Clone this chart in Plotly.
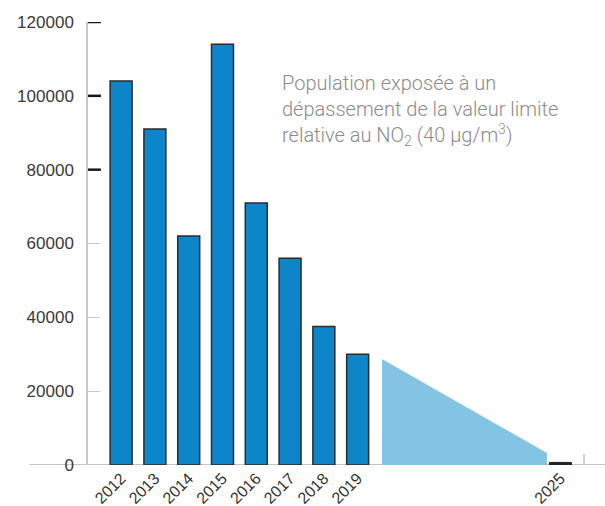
import plotly.graph_objects as go

years = [2012, 2013, 2014, 2015, 2016, 2017, 2018, 2019]
population = [104000, 91000, 62000, 114000, 71000, 56000, 37500, 30000]
target_year = [2025]
target_value = [700]
proj_x = [2019.72, 2019.72, 2024.6, 2024.6]
proj_y = [0, 28700, 3250, 0]
ytick_vals = [0, 20000, 40000, 60000, 80000, 100000, 120000]
xtick_vals = years + target_year
xtick_text = [str(y) for y in xtick_vals]

fig = go.Figure()
fig.add_trace(go.Scatter(x=proj_x, y=proj_y, fill="toself", mode="lines",
                         line=dict(width=0, color="#83c3e4"), fillcolor="#83c3e4",
                         hoverinfo="skip"))
fig.add_trace(go.Bar(x=years, y=population, width=0.65,
                     marker=dict(color="#0c86c9", line=dict(color="#2b2b2b", width=1.5))))
fig.add_trace(go.Bar(x=target_year, y=target_value, width=0.65,
                     marker=dict(color="#222222", line=dict(color="#222222", width=1))))

shapes = [
    dict(type="line", xref="paper", yref="y", x0=-0.113, x1=1, y0=0, y1=0,
         line=dict(color="#c4c4c4", width=2), layer="below"),
    dict(type="line", xref="x", yref="y", x0=2025.7, x1=2025.7, y0=0, y1=3000,
         line=dict(color="#c4c4c4", width=1.5)),
]
for v in [80000, 100000, 120000]:
    shapes.append(dict(type="line", xref="paper", yref="y", x0=0, x1=0.025, y0=v, y1=v,
                       line=dict(color="#1a1a1a", width=2.5)))

fig.update_layout(
    width=605, height=506,
    margin=dict(l=88, r=0, t=22, b=41, autoexpand=False),
    paper_bgcolor="white", plot_bgcolor="white",
    showlegend=False, barmode="overlay",
    font=dict(family="Liberation Sans, Arial, sans-serif", color="#3a3a3a"),
    xaxis=dict(range=[2011.02, 2026.32], tickmode="array", tickvals=xtick_vals,
               ticktext=xtick_text, tickangle=-45, showgrid=False, zeroline=False,
               showline=False, ticks="", automargin=False,
               tickfont=dict(size=16, color="#333")),
    yaxis=dict(range=[0, 120000], tickmode="array", tickvals=ytick_vals,
               ticktext=[str(v) for v in ytick_vals], showgrid=False, zeroline=False,
               showline=True, linecolor="#c8c8c8", linewidth=1.5, automargin=False,
               ticks="inside", ticklen=12, tickcolor="#c8c8c8", tickwidth=1,
               ticklabelstandoff=9, tickfont=dict(size=17, color="#3a3a3a")),
    shapes=shapes,
    annotations=[dict(
        xref="paper", yref="paper", x=(280 - 88) / 517, y=1 - (69 - 22) / 443,
        xanchor="left", yanchor="top", align="left", showarrow=False,
        text="Population exposée à un<br>dépassement de la valeur limite<br>relative au NO<sub>2</sub> (40 µg/m<sup>3</sup>)",
        font=dict(family="Roboto", size=20, color="#8c8c8c", weight=300),
    )],
)
fig.write_html("out.html")
